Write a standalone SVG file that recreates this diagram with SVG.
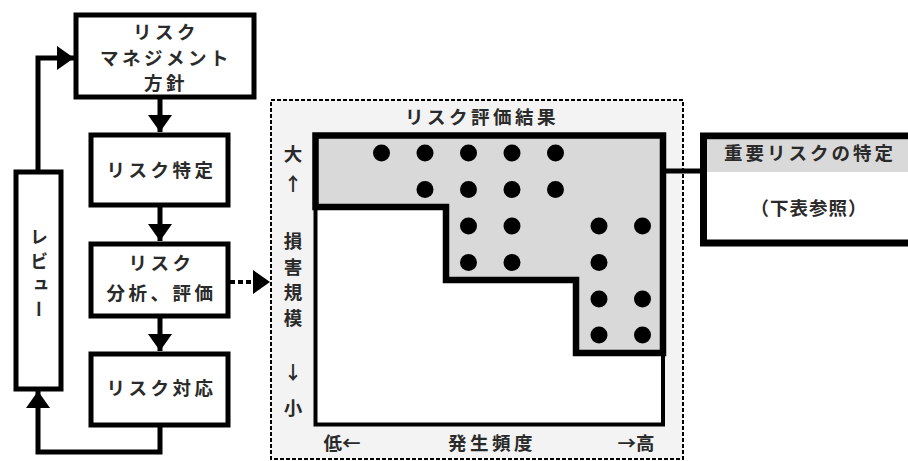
<svg xmlns="http://www.w3.org/2000/svg" width="908" height="461" viewBox="0 0 908 461">
<style>
.box{fill:#fff;stroke:#000;stroke-width:5}
.t{font-family:"Noto Sans CJK JP","Noto Sans CJK SC",sans-serif;font-weight:bold;font-size:18.5px;fill:#2a2a2a;text-anchor:middle;letter-spacing:3.5px}
.ax{font-family:"Noto Sans CJK JP","Noto Sans CJK SC",sans-serif;font-weight:bold;font-size:18.5px;fill:#2a2a2a;text-anchor:middle}
.ln{fill:none;stroke:#000;stroke-width:5}
.dot{fill:#000}
</style>
<defs>
<marker id="ah" viewBox="0 0 17 24" refX="17" refY="12" markerWidth="17" markerHeight="24" markerUnits="userSpaceOnUse" orient="auto">
<path d="M0,0 L17,12 L0,24 Z" fill="#000"/>
</marker>
</defs>
<rect width="908" height="461" fill="#fff"/>

<g id="connectors">
<line class="ln" x1="160" y1="99" x2="160" y2="132" marker-end="url(#ah)"/>
<line class="ln" x1="160" y1="207" x2="160" y2="241" marker-end="url(#ah)"/>
<line class="ln" x1="160" y1="318" x2="160" y2="351" marker-end="url(#ah)"/>
<polyline class="ln" points="160,427 160,452 38,452 38,391" marker-end="url(#ah)"/>
<polyline class="ln" points="38,170 38,58 74,58" marker-end="url(#ah)"/>
<line x1="230" y1="282" x2="270" y2="282" stroke="#000" stroke-width="4" stroke-dasharray="5,3" marker-end="url(#ah)"/>
</g>

<g id="policy">
<rect class="box" x="76" y="15" width="178" height="82"/>
<text class="t" x="166" y="39">リスク</text>
<text class="t" x="166" y="65">マネジメント</text>
<text class="t" x="166" y="90">方針</text>
</g>
<g id="identify">
<rect class="box" x="91" y="135" width="137" height="70"/>
<text class="t" x="161.5" y="177">リスク特定</text>
</g>
<g id="analysis">
<rect class="box" x="91" y="244" width="137" height="72"/>
<text class="t" x="161.5" y="270">リスク</text>
<text class="t" x="161.5" y="300">分析、評価</text>
</g>
<g id="review">
<rect class="box" x="16" y="172" width="45" height="217"/>
<text x="39" y="228" style="font-family:'Noto Sans CJK JP',sans-serif;font-weight:bold;font-size:18px;fill:#2a2a2a;writing-mode:vertical-rl;letter-spacing:6px">レビュー</text>
</g>
<g id="response">
<rect class="box" x="91" y="354" width="137" height="71"/>
<text class="t" x="161.5" y="395">リスク対応</text>
</g>

<g id="result">
<rect x="271" y="100" width="412" height="359" fill="#f3f3f3" stroke="#000" stroke-width="2" stroke-dasharray="4,2"/>
<text class="t" x="482" y="124">リスク評価結果</text>
<rect x="315.5" y="135.5" width="347.5" height="289" fill="#fff" stroke="#000" stroke-width="4"/>
<polygon points="315.5,135.5 663,135.5 663,353 576,353 576,280 446,280 446,207 315.5,207" fill="#d9d9d9" stroke="#000" stroke-width="6.5" stroke-linejoin="miter"/>
<g>
<circle class="dot" cx="381.5" cy="153" r="8.5"/>
<circle class="dot" cx="425" cy="153" r="8.5"/>
<circle class="dot" cx="468.5" cy="153" r="8.5"/>
<circle class="dot" cx="512" cy="153" r="8.5"/>
<circle class="dot" cx="555.5" cy="153" r="8.5"/>
<circle class="dot" cx="425" cy="189.5" r="8.5"/>
<circle class="dot" cx="468.5" cy="189.5" r="8.5"/>
<circle class="dot" cx="512" cy="189.5" r="8.5"/>
<circle class="dot" cx="555.5" cy="189.5" r="8.5"/>
<circle class="dot" cx="468.5" cy="226" r="8.5"/>
<circle class="dot" cx="512" cy="226" r="8.5"/>
<circle class="dot" cx="599" cy="226" r="8.5"/>
<circle class="dot" cx="642.5" cy="226" r="8.5"/>
<circle class="dot" cx="468.5" cy="262.5" r="8.5"/>
<circle class="dot" cx="512" cy="262.5" r="8.5"/>
<circle class="dot" cx="599" cy="262.5" r="8.5"/>
<circle class="dot" cx="599" cy="299" r="8.5"/>
<circle class="dot" cx="642.5" cy="299" r="8.5"/>
<circle class="dot" cx="599" cy="335" r="8.5"/>
<circle class="dot" cx="642.5" cy="335" r="8.5"/>
</g>
<text class="ax" x="293" y="161">大</text>
<text class="ax" x="293" y="191">↑</text>
<text class="ax" x="293" y="248">損</text>
<text class="ax" x="293" y="274">害</text>
<text class="ax" x="293" y="299">規</text>
<text class="ax" x="293" y="325">模</text>
<text class="ax" x="293" y="379">↓</text>
<text class="ax" x="293" y="415">小</text>
<text class="ax" x="342" y="450">低←</text>
<text class="t" x="492" y="450">発生頻度</text>
<text class="ax" x="636" y="450">→高</text>
</g>

<g id="important">
<line x1="664" y1="171" x2="702" y2="171" stroke="#000" stroke-width="5"/>
<rect x="703.5" y="136" width="220" height="107" fill="#fff" stroke="#000" stroke-width="7"/>
<rect x="707" y="139.5" width="201" height="32.5" fill="#d9d9d9"/>
<text class="t" x="810" y="160" style="letter-spacing:3px">重要リスクの特定</text>
<text class="t" x="809" y="215" style="letter-spacing:1px">（下表参照）</text>
</g>
</svg>
